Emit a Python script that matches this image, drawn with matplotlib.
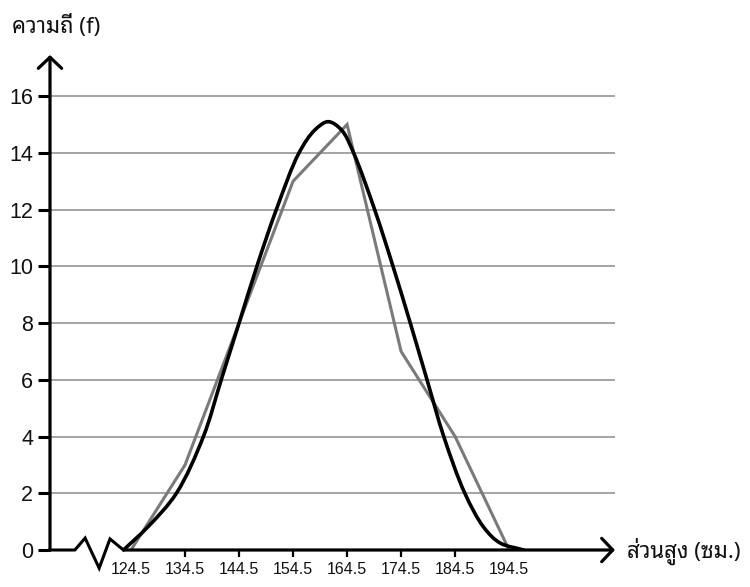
import matplotlib
matplotlib.use("Agg")
import matplotlib.pyplot as plt
from matplotlib import font_manager
from matplotlib.ft2font import FT2Font
from matplotlib.path import Path
from matplotlib.patches import PathPatch, FancyArrowPatch

# ---------------- data ----------------
midpoints = [124.5, 134.5, 144.5, 154.5, 164.5, 174.5, 184.5, 194.5]
frequencies = [0, 3, 8, 13, 15, 7, 4, 0]
x_tick_labels = ["124.5", "134.5", "144.5", "154.5", "164.5", "174.5", "184.5", "194.5"]
x_tick_marks = [134.5, 144.5, 154.5, 164.5, 174.5, 184.5]
y_ticks = [0, 2, 4, 6, 8, 10, 12, 14, 16]
# smooth curve points
curve_x = [123.1, 127.8, 132.9, 137.9, 141.2, 144.5, 147.8, 151.4, 155.6,
           158.5, 161.0, 163.5, 165.7, 169.6, 173.0, 176.2, 179.3, 182.4,
           186.3, 189.8, 192.8, 197.2]
curve_y = [0.0, 0.85, 2.0, 4.0, 6.0, 8.0, 10.0, 12.0, 14.0,
           14.8, 15.1, 14.8, 14.0, 12.0, 10.0, 8.0, 6.0, 4.0,
           2.0, 0.8, 0.25, 0.0]
y_label = "ความถี่ (f)"
x_label = "ส่วนสูง (ซม.)"

# ---------------- fonts ----------------
thai_candidates = []
seen = set()
for fe in font_manager.fontManager.ttflist:
    if fe.name in seen:
        continue
    try:
        cm = FT2Font(fe.fname).get_charmap()
    except Exception:
        continue
    if 0x0E04 in cm and 0x0E2A in cm and 0x0E35 in cm:
        seen.add(fe.name)
        thai_candidates.append(fe.name)

def _score(n):
    s = 0
    low = n.lower()
    if "mono" in low:
        s += 10
    if "serif" in low and "sans" not in low:
        s += 5
    if "tahoma" in low:
        s -= 12
    if "looped" in low:
        s -= 8
    if "loma" in low or "garuda" in low:
        s -= 7
    if "noto sans thai" in low:
        s -= 5
    if "sans" in low:
        s -= 2
    return s

thai_candidates.sort(key=_score)
thai_fams = thai_candidates[:1] + ["Liberation Sans", "DejaVu Sans"]
latin_fams = ["Liberation Sans", "DejaVu Sans"]
plt.rcParams["font.family"] = latin_fams

# ---------------- figure ----------------
fig = plt.figure(figsize=(7.5, 5.87), dpi=100)
ax = fig.add_axes([50 / 750, 37 / 587, 565 / 750, 495 / 587])
ax.set_xlim(109.5, 214.1)
ax.set_ylim(0, 17.45)
for s in ax.spines.values():
    s.set_visible(False)

# grid lines
for yv in y_ticks[1:]:
    ax.axhline(yv, color="#8c8c8c", lw=1.1, zorder=1)

# frequency polygon
ax.plot(midpoints, frequencies, color="#7a7a7a", lw=2.2, zorder=3,
        solid_joinstyle="miter")

# smooth curve: centripetal Catmull-Rom -> cubic Bezier (y scaled for
# distances to roughly match screen proportions)
YS = 5.24
pts = [(x, y * YS) for x, y in zip(curve_x, curve_y)]
ext = [(2 * pts[0][0] - pts[1][0], 2 * pts[0][1] - pts[1][1])] + pts + \
      [(2 * pts[-1][0] - pts[-2][0], 2 * pts[-1][1] - pts[-2][1])]

def _d(a, b):
    return max(((a[0] - b[0]) ** 2 + (a[1] - b[1]) ** 2) ** 0.25, 1e-6)

verts = [(pts[0][0], pts[0][1] / YS)]
codes = [Path.MOVETO]
for i in range(1, len(ext) - 2):
    p0, p1, p2, p3 = ext[i - 1], ext[i], ext[i + 1], ext[i + 2]
    d0, d1, d2 = _d(p0, p1), _d(p1, p2), _d(p2, p3)
    c1 = tuple(p1[k] + d1 / 3 * ((p1[k] - p0[k]) / d0 - (p2[k] - p0[k]) / (d0 + d1)
                                  + (p2[k] - p1[k]) / d1) for k in range(2))
    c2 = tuple(p2[k] - d1 / 3 * ((p2[k] - p1[k]) / d1 - (p3[k] - p1[k]) / (d1 + d2)
                                  + (p3[k] - p2[k]) / d2) for k in range(2))
    for c in (c1, c2, p2):
        verts.append((c[0], c[1] / YS))
    codes += [Path.CURVE4] * 3
ax.add_patch(PathPatch(Path(verts, codes), facecolor="none", edgecolor="black",
                       lw=2.6, zorder=4, capstyle="round", joinstyle="round"))

# axes with arrows
x0, x1 = ax.get_xlim()
y0, y1 = ax.get_ylim()
arrow_style = "->,head_length=0.4,head_width=0.42"
ax.add_patch(FancyArrowPatch((x0, 0), (x0, y1), arrowstyle=arrow_style,
                             mutation_scale=20, lw=2.3, color="black",
                             shrinkA=0, shrinkB=0, clip_on=False, zorder=6))
# x axis: left piece, zigzag break, right piece with arrow
brk_x = [x0, 114.1, 116.0, 118.6, 120.6, 123.1]
brk_y = [0, 0, 0.42, -0.64, 0.39, 0.0]
ax.plot(brk_x, brk_y, color="black", lw=2.2, clip_on=False, zorder=6,
        solid_joinstyle="miter")
ax.add_patch(FancyArrowPatch((123.1, 0), (x1, 0), arrowstyle=arrow_style,
                             mutation_scale=20, lw=2.3, color="black",
                             shrinkA=0, shrinkB=0, clip_on=False, zorder=6))

# y ticks
ax.set_yticks(y_ticks)
ax.set_yticklabels([str(v) for v in y_ticks], fontsize=15.5, color="#111111")
ax.tick_params(axis="y", length=9, width=2.2, pad=3, color="black")

# x ticks: marks only at selected positions, labels at all midpoints
ax.set_xticks(x_tick_marks)
ax.tick_params(axis="x", length=5, width=1.6, labelbottom=False, color="black")
for xv, lab in zip(midpoints, x_tick_labels):
    ax.annotate(lab, xy=(xv, 0), xycoords="data", xytext=(0, -8.5),
                textcoords="offset points", ha="center", va="top",
                fontsize=11.5, color="#111111", annotation_clip=False)

# axis titles
fig.text(12 / 750, 1 - 26 / 587, y_label, fontsize=16, ha="left",
         va="center", color="#111111", family=thai_fams)
fig.text(627 / 750, 1 - 551 / 587, x_label, fontsize=16, ha="left",
         va="center", color="#111111", family=thai_fams)

fig.savefig("out.png", dpi=100, facecolor="white")
